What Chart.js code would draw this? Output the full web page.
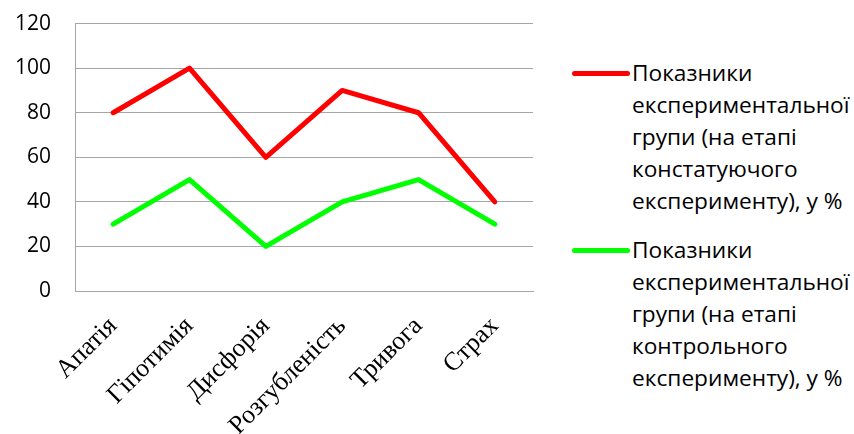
<!DOCTYPE html>
<html>
<head>
<meta charset="utf-8">
<script src="https://cdn.jsdelivr.net/npm/chart.js@4"></script>
<style>
  body { margin: 0; background: #fff; overflow: hidden; }
  #wrap { position: relative; width: 854px; height: 434px; overflow: hidden; }
  #box { position: absolute; left: 0; top: -13px; width: 545px; height: 447px; }
  .leg { position: absolute; left: 572px; font-family: "Open Sans", "Liberation Sans", sans-serif; font-size: 21px; color: #000; }
  .leg .ln { position: absolute; left: 0; top: 14px; width: 58px; height: 5px; border-radius: 3px; }
  .leg .tx { margin-left: 60px; line-height: 32px; white-space: nowrap; transform: scaleX(1.08); transform-origin: left top; }
</style>
</head>
<body>
<div id="wrap">
  <div id="box"><canvas id="c"></canvas></div>
  <div class="leg" style="top:57px"><div class="ln" style="background:#ff0000"></div><div class="tx" id="l0"></div></div>
  <div class="leg" style="top:234px"><div class="ln" style="background:#00ff00"></div><div class="tx" id="l1"></div></div>
</div>
<script>
const categories = ["Апатія", "Гіпотимія", "Дисфорія", "Розгубленість", "Тривога", "Страх"];
const constatValues = [80, 100, 60, 90, 80, 40];
const controlValues = [30, 50, 20, 40, 50, 30];
const seriesNames = [
  ["Показники", "експериментальної", "групи (на етапі", "констатуючого", "експерименту), у %"],
  ["Показники", "експериментальної", "групи (на етапі", "контрольного", "експерименту), у %"]
];

document.getElementById("l0").innerHTML = seriesNames[0].join("<br>");
document.getElementById("l1").innerHTML = seriesNames[1].join("<br>");

var ctx = document.getElementById("c").getContext("2d");

var data = {
  labels: categories,
  datasets: [
    { label: seriesNames[0].join(" "), data: constatValues, borderColor: "#ff0000", borderWidth: 5, pointRadius: 0, tension: 0, borderCapStyle: "round", borderJoinStyle: "round" },
    { label: seriesNames[1].join(" "), data: controlValues, borderColor: "#00ff00", borderWidth: 5, pointRadius: 0, tension: 0, borderCapStyle: "round", borderJoinStyle: "round" }
  ]
};

var options = {
  responsive: true,
  maintainAspectRatio: false,
  animation: false,
  layout: { padding: { top: 0, right: 12, left: 0, bottom: 0 } },
  plugins: { legend: { display: false }, tooltip: { enabled: false } },
  scales: {
    x: {
      offset: true,
      grid: { display: false, drawTicks: false },
      border: { display: true, color: "#a6a6a6", width: 1 },
      ticks: {
        autoSkip: false,
        maxRotation: 45, minRotation: 45,
        padding: 20,
        color: "#000",
        font: { family: "'Liberation Serif', 'Times New Roman', serif", size: 26 }
      },
      afterFit: (s) => { s.height = 143; }
    },
    y: {
      min: 0, max: 120,
      grid: { color: "#a6a6a6", drawTicks: false },
      border: { display: true, color: "#a6a6a6", width: 1 },
      ticks: {
        stepSize: 20,
        padding: 24,
        color: "#000",
        font: { family: "'Open Sans', 'Liberation Sans', sans-serif", size: 21 }
      },
      afterFit: (s) => { s.width = 75; }
    }
  }
};

var myChart = new Chart(ctx, { type: "line", data: data, options: options });
</script>
</body>
</html>
